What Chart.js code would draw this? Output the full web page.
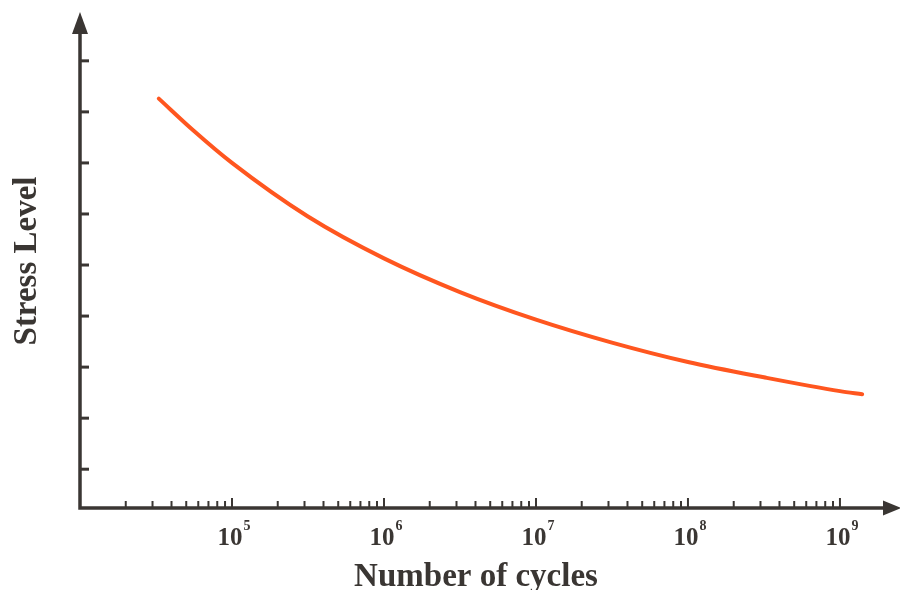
<!DOCTYPE html>
<html>
<head>
<meta charset="utf-8">
<script src="https://cdn.jsdelivr.net/npm/chart.js@4.4.1/dist/chart.umd.min.js"></script>
<style>
  html, body { margin: 0; padding: 0; background: #fff; }
  #wrap { width: 900px; height: 590px; }
</style>
</head>
<body>
<div id="wrap"><canvas id="snChart" width="900" height="590"></canvas></div>
<script>
// S-N curve: stress level against number of cycles (log axis)
const cycles = [3.3e4, 5.6e4, 1e5, 3.16e5, 1e6, 3.16e6, 1e7, 3.16e7, 1e8, 3.16e8, 1e9, 1.4e9];
const stress = [8.26, 7.63, 7.00, 5.95, 5.13, 4.47, 3.93, 3.48, 3.10, 2.80, 2.53, 2.47];

// tick positions
const firstDecade = 4;
const decadeExps = [5, 6, 7, 8, 9];          // labelled powers of ten
const minorSteps = [2, 3, 4, 5, 6, 7, 8, 9];
const stressTicks = [1, 2, 3, 4, 5, 6, 7, 8, 9];

const axisColor = '#3a3633';
const curveColor = '#ff561f';
const serif = "'Liberation Serif', 'DejaVu Serif', serif";

function buildCycleTicks() {
    const ticks = [];
    for (let e = firstDecade; e < decadeExps[decadeExps.length - 1]; e++) {
        minorSteps.forEach(m => ticks.push({ value: m * Math.pow(10, e), major: false }));
    }
    decadeExps.forEach(e => ticks.push({ value: Math.pow(10, e), major: true, exp: e }));
    return ticks.sort((p, q) => p.value - q.value);
}

// axes with arrow heads, inward ticks and 10^n labels
const arrowAxes = {
    id: 'arrowAxes',
    afterDraw(chart) {
        const { ctx, chartArea: a, scales: { x, y } } = chart;
        ctx.save();
        ctx.strokeStyle = axisColor;
        ctx.fillStyle = axisColor;

        // axis lines
        ctx.lineWidth = 3.5;
        ctx.lineCap = 'butt';
        ctx.beginPath();
        ctx.moveTo(a.left, a.bottom + 1.75);
        ctx.lineTo(a.left, a.top + 10);
        ctx.moveTo(a.left - 1.75, a.bottom);
        ctx.lineTo(a.right - 6, a.bottom);
        ctx.stroke();

        // arrow heads
        ctx.beginPath();
        ctx.moveTo(a.left, a.top - 8);
        ctx.lineTo(a.left - 8, a.top + 14);
        ctx.lineTo(a.left + 8, a.top + 14);
        ctx.closePath();
        ctx.fill();
        ctx.beginPath();
        ctx.moveTo(a.right + 9, a.bottom);
        ctx.lineTo(a.right - 9, a.bottom - 7.5);
        ctx.lineTo(a.right - 9, a.bottom + 7.5);
        ctx.closePath();
        ctx.fill();

        // y ticks
        ctx.lineWidth = 3;
        y.ticks.forEach(t => {
            const py = y.getPixelForValue(t.value);
            ctx.beginPath();
            ctx.moveTo(a.left, py);
            ctx.lineTo(a.left + 9, py);
            ctx.stroke();
        });

        // x ticks
        ctx.lineWidth = 2;
        x.ticks.forEach(t => {
            const px = x.getPixelForValue(t.value);
            const len = t.major ? 10 : 7;
            ctx.beginPath();
            ctx.moveTo(px, a.bottom);
            ctx.lineTo(px, a.bottom - len);
            ctx.stroke();
        });

        // decade labels
        ctx.textBaseline = 'alphabetic';
        ctx.textAlign = 'left';
        x.ticks.filter(t => t.major).forEach(t => {
            const px = x.getPixelForValue(t.value);
            ctx.font = 'bold 25px ' + serif;
            const w = ctx.measureText('10').width;
            const x0 = px - w / 2 - 2;
            ctx.fillText('10', x0, a.bottom + 37);
            ctx.font = 'bold 14px ' + serif;
            ctx.fillText(String(t.exp), x0 + w + 1, a.bottom + 22);
        });

        // axis titles
        ctx.font = 'bold 33px ' + serif;
        ctx.textAlign = 'center';
        ctx.fillText('Number of cycles', 476, 586);
        ctx.translate(36, 261);
        ctx.rotate(-Math.PI / 2);
        ctx.fillText('Stress Level', 0, 0);
        ctx.restore();
    }
};

new Chart(document.getElementById('snChart'), {
    type: 'line',
    data: {
        labels: cycles,
        datasets: [{
            data: cycles.map((c, i) => ({ x: c, y: stress[i] })),
            borderColor: curveColor,
            borderWidth: 4,
            borderCapStyle: 'round',
            pointRadius: 0,
            cubicInterpolationMode: 'monotone',
            fill: false
        }]
    },
    options: {
        responsive: false,
        animation: false,
        layout: { padding: { left: 80, right: 8, top: 20, bottom: 82 } },
        plugins: { legend: { display: false }, tooltip: { enabled: false } },
        scales: {
            x: {
                type: 'logarithmic',
                display: false,
                min: 1e4,
                max: 2.2e9,
                ticks: { autoSkip: false },
                afterBuildTicks: scale => { scale.ticks = buildCycleTicks(); }
            },
            y: {
                type: 'linear',
                display: false,
                min: 0.24,
                max: 9.8,
                ticks: { autoSkip: false },
                afterBuildTicks: scale => { scale.ticks = stressTicks.map(v => ({ value: v })); }
            }
        }
    },
    plugins: [arrowAxes]
});
</script>
</body>
</html>
